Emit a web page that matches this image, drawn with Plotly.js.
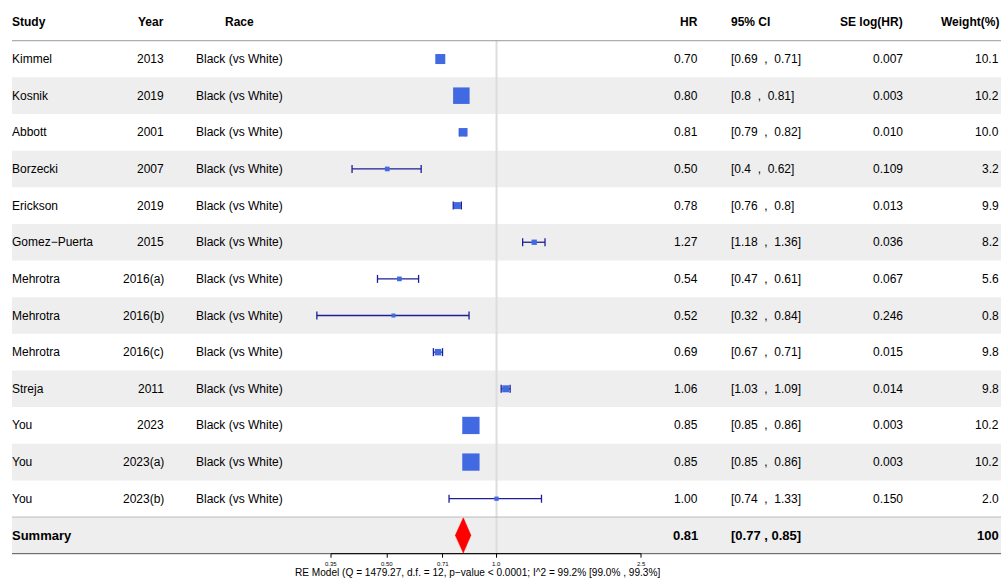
<!DOCTYPE html>
<html><head><meta charset="utf-8">
<script src="https://cdn.plot.ly/plotly-3.0.1.min.js"></script>
<style>html,body{margin:0;padding:0;background:#fff}#chart{width:1001px;height:582px}</style>
</head><body><div id="chart"></div>
<script>
// ---------------- data ----------------
const studies = ['Kimmel','Kosnik','Abbott','Borzecki','Erickson','Gomez\u2212Puerta','Mehrotra','Mehrotra','Mehrotra','Streja','You','You','You'];
const years   = ['2013','2019','2001','2007','2019','2015','2016(a)','2016(b)','2016(c)','2011','2023','2023(a)','2023(b)'];
const races   = ['Black (vs White)','Black (vs White)','Black (vs White)','Black (vs White)','Black (vs White)','Black (vs White)','Black (vs White)','Black (vs White)','Black (vs White)','Black (vs White)','Black (vs White)','Black (vs White)','Black (vs White)'];
const hr      = [0.70, 0.80, 0.81, 0.50, 0.78, 1.27, 0.54, 0.52, 0.69, 1.06, 0.85, 0.85, 1.00];
const ciLow   = [0.69, 0.8, 0.79, 0.4, 0.76, 1.18, 0.47, 0.32, 0.67, 1.03, 0.85, 0.85, 0.74];
const ciHigh  = [0.71, 0.81, 0.82, 0.62, 0.8, 1.36, 0.61, 0.84, 0.71, 1.09, 0.86, 0.86, 1.33];
const seLogHR = ['0.007','0.003','0.010','0.109','0.013','0.036','0.067','0.246','0.015','0.014','0.003','0.003','0.150'];
const weights = ['10.1','10.2','10.0','3.2','9.9','8.2','5.6','0.8','9.8','9.8','10.2','10.2','2.0'];
const summaryLabel = 'Summary';
const summaryHR = 0.81, summaryLow = 0.77, summaryHigh = 0.85, summaryWeight = '100';
const headers = ['Study','Year','Race','HR','95% CI','SE log(HR)','Weight(%)'];
const tickVals = [0.35, 0.50, 0.71, 1.0, 2.5];
const tickText = ['0.35','0.50','0.71','1.0','2.5'];
const caption = 'RE Model (Q = 1479.27, d.f. = 12, p\u2212value < 0.0001; I^2 = 99.2% [99.0% , 99.3%]';

// ---------------- style ----------------
const markerPx = [10, 16.5, 8.5, 4.7, 7, 5.3, 4.7, 4, 6.5, 7, 17.3, 17.3, 4.3];
const W = 1001, H = 582;
const PX_PER_DEC = 363.05, ONE_PX = 496.53;
const xRange = [-ONE_PX / PX_PER_DEC, (W - ONE_PX) / PX_PER_DEC];
const ROW0 = 22.4, ROWH = 36.64;
const yRange = [(H - ROW0) / ROWH, -ROW0 / ROWH];
const toK = p => (p - ROW0) / ROWH;
const FONT = 'Liberation Sans, Arial, sans-serif';
const nS = studies.length;
const kS = studies.map((_, i) => i + 1);
const kSum = nS + 1;
const NB = '\u00a0';

const shapes = [];
for (let k = 2; k <= kSum; k += 2) {
  shapes.push({type:'rect', xref:'paper', yref:'y', x0:12/W, x1:1, y0:k-0.5, y1:k+0.5,
    fillcolor:'#eeeeee', line:{width:0}, layer:'below'});
}
shapes.push({type:'line', xref:'x', yref:'y', x0:1, x1:1, y0:0.5, y1:kSum+0.5, line:{color:'#dddddd', width:2}, layer:'below'});
shapes.push({type:'line', xref:'paper', yref:'y', x0:12/W, x1:1, y0:0.5, y1:0.5, line:{color:'#999999', width:1}});
shapes.push({type:'line', xref:'paper', yref:'y', x0:12/W, x1:1, y0:kSum-0.5, y1:kSum-0.5, line:{color:'#bbbbbb', width:1}});
shapes.push({type:'line', xref:'paper', yref:'y', x0:12/W, x1:1, y0:kSum+0.5, y1:kSum+0.5, line:{color:'#555555', width:1}});
shapes.push({type:'line', xref:'x', yref:'y', x0:tickVals[0], x1:tickVals[tickVals.length-1], y0:kSum+0.5, y1:kSum+0.5, line:{color:'#000', width:1}});
tickVals.forEach(t => shapes.push({type:'line', xref:'x', yref:'y', x0:t, x1:t, y0:kSum+0.5, y1:kSum+0.5+4/ROWH, line:{color:'#000', width:1}}));

const annotations = [];
function ann(px, k, text, anchor, opts) {
  opts = opts || {};
  annotations.push({xref:'paper', yref:'y', x:px/W, y:k, text:text, showarrow:false,
    xanchor:anchor, yanchor:'middle', borderpad:0, borderwidth:0,
    font:{family:FONT, size:opts.size||12, color:'#000', weight:opts.bold?'bold':'normal'}});
}
// header
ann(12, 0, headers[0], 'left', {bold:true});
ann(164, 0, headers[1], 'right', {bold:true});
ann(239, 0, headers[2], 'center', {bold:true});
ann(698, 0, headers[3], 'right', {bold:true});
ann(731, 0, headers[4], 'left', {bold:true});
ann(903, 0, headers[5], 'right', {bold:true});
ann(999, 0, headers[6], 'right', {bold:true});
// rows
for (let i = 0; i < nS; i++) {
  const k = kS[i];
  ann(12, k, studies[i], 'left');
  ann(164, k, years[i], 'right');
  ann(196, k, races[i], 'left');
  ann(698, k, hr[i].toFixed(2), 'right');
  ann(731, k, '[' + ciLow[i] + NB + NB + ',' + NB + NB + ciHigh[i] + ']', 'left');
  ann(903, k, seLogHR[i], 'right');
  ann(999, k, weights[i], 'right');
}
// summary
ann(12, kSum, summaryLabel, 'left', {bold:true, size:13});
ann(698, kSum, summaryHR.toFixed(2), 'right', {bold:true, size:13});
ann(731, kSum, '[' + summaryLow + ' , ' + summaryHigh + ']', 'left', {bold:true, size:13});
ann(999, kSum, summaryWeight, 'right', {bold:true, size:13});
// tick labels & caption
tickVals.forEach((t, i) => annotations.push({xref:'x', yref:'y', x:Math.log10(t), y:toK(564), text:tickText[i],
  showarrow:false, xanchor:'center', yanchor:'middle', borderpad:0, borderwidth:0, font:{family:FONT, size:6, color:'#000'}}));
ann(477.5, toK(572.5), caption, 'center', {size:10.1});

// traces
const ciX = [], ciY = [], capX = [], capY = [];
const CAP = 4 / ROWH;
for (let i = 0; i < nS; i++) {
  ciX.push(ciLow[i], ciHigh[i], null); ciY.push(kS[i], kS[i], null);
  capX.push(ciLow[i], ciLow[i], null, ciHigh[i], ciHigh[i], null);
  capY.push(kS[i]-CAP, kS[i]+CAP, null, kS[i]-CAP, kS[i]+CAP, null);
}
const traces = [
  {type:'scatter', mode:'lines', x:ciX, y:ciY, line:{color:'#1e1e96', width:1.3}, hoverinfo:'skip', cliponaxis:false},
  {type:'scatter', mode:'lines', x:capX, y:capY, line:{color:'#1e1e96', width:1.3}, hoverinfo:'skip', cliponaxis:false},
  {type:'scatter', mode:'markers', x:hr, y:kS, marker:{symbol:'square', size:markerPx, color:'#4169e1', opacity:1, line:{width:0}}, cliponaxis:false},
  {type:'scatter', mode:'lines', x:[summaryLow, summaryHR, summaryHigh, summaryHR, summaryLow],
    y:[kSum, kSum-0.48, kSum, kSum+0.48, kSum], fill:'toself', fillcolor:'#ff0000', line:{color:'#ff0000', width:0.5}, hoverinfo:'skip'}
];

const layout = {
  width:W, height:H, margin:{l:0, r:0, t:0, b:0}, showlegend:false,
  paper_bgcolor:'#fff', plot_bgcolor:'rgba(0,0,0,0)',
  xaxis:{type:'log', range:xRange, visible:false, fixedrange:true},
  yaxis:{range:yRange, visible:false, fixedrange:true},
  shapes:shapes, annotations:annotations
};
Plotly.newPlot('chart', traces, layout, {staticPlot:true, displayModeBar:false});
</script></body></html>
